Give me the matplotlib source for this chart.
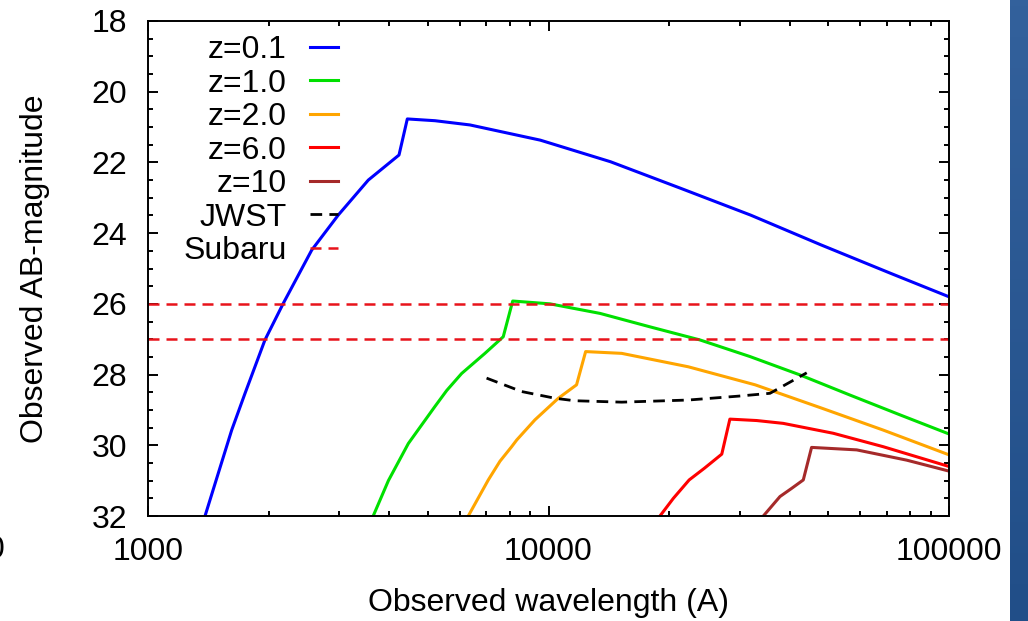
import numpy as np
import matplotlib
matplotlib.use('Agg')
import matplotlib.pyplot as plt
from matplotlib.ticker import FixedLocator, MultipleLocator, LogLocator, NullFormatter
from matplotlib.colors import LinearSegmentedColormap

plt.rcParams['font.family'] = ['Liberation Sans', 'DejaVu Sans']
plt.rcParams['font.size'] = 23

# observed wavelength (A) and AB magnitude
lam_z01 = [1388, 1498, 1618, 1747, 1959, 2178, 2563, 2985, 3548, 4234, 4441,
           5207, 6368, 9540, 14280, 21360, 31970, 47860, 71620, 100000]
mag_z01 = [32.0, 30.79, 29.57, 28.53, 27.02, 25.98, 24.48, 23.49, 22.50, 21.79, 20.77,
           20.82, 20.94, 21.37, 21.98, 22.73, 23.49, 24.33, 25.14, 25.80]

lam_z1 = [3650, 3983, 4467, 5207, 5570, 6068, 6939, 7709, 8140, 10090, 13450,
          17920, 23880, 31840, 42460, 56600, 75470, 100000]
mag_z1 = [32.0, 31.00, 29.95, 28.90, 28.45, 27.97, 27.40, 26.93, 25.92, 26.00, 26.27,
          26.65, 27.02, 27.49, 28.01, 28.58, 29.14, 29.68]

lam_z2 = [6305, 7074, 7566, 8090, 8330, 9250, 10580, 11750, 12380, 15230,
          22340, 32810, 48110, 68500, 100000]
mag_z2 = [32.0, 30.98, 30.45, 30.04, 29.85, 29.28, 28.67, 28.29, 27.35, 27.40,
          27.78, 28.29, 28.95, 29.57, 30.27]

lam_z6 = [18980, 20500, 22450, 24500, 27080, 28370, 33100, 38550, 51400,
          68500, 100000]
mag_z6 = [32.0, 31.50, 30.98, 30.65, 30.25, 29.26, 29.30, 29.38, 29.66,
          30.04, 30.60]

lam_z10 = [34390, 37840, 40450, 43270, 45380, 58830, 78390, 100000]
mag_z10 = [32.0, 31.45, 31.22, 30.98, 30.06, 30.13, 30.42, 30.73]

lam_jwst = [7004, 8570, 10380, 11620, 15230, 22340, 29790, 35730, 44130]
mag_jwst = [28.10, 28.48, 28.67, 28.74, 28.78, 28.72, 28.61, 28.53, 27.95]

subaru_limits = [26.0, 27.0]

labels = ['z=0.1', 'z=1.0', 'z=2.0', 'z=6.0', 'z=10', 'JWST', 'Subaru']
colors = ['#0000ff', '#00e000', '#ffa500', '#ff0000', '#a52a2a', 'black', '#e8131b']


fig = plt.figure(figsize=(10.28, 6.21), dpi=100)
ax = fig.add_axes([148 / 1028, 105 / 621, 801 / 1028, 495 / 621])

curves = [(lam_z01, mag_z01), (lam_z1, mag_z1), (lam_z2, mag_z2),
          (lam_z6, mag_z6), (lam_z10, mag_z10)]
for (lam, mag), col in zip(curves, colors[:5]):
    ax.plot(lam, mag, color=col, lw=2.2, solid_joinstyle='round')

ax.plot(lam_jwst, mag_jwst, color=colors[5], lw=2.0, dashes=(4.2, 2.6))
for m in subaru_limits:
    ax.plot([1000, 100000], [m, m], color=colors[6], lw=1.8, dashes=(4.4, 2.8))

ax.set_xscale('log')
ax.set_xlim(1000, 100000)
ax.set_ylim(32, 18)

ax.xaxis.set_major_locator(FixedLocator([1000, 10000, 100000]))
ax.set_xticklabels(['1000', '10000', '100000'])
ax.xaxis.set_minor_locator(LogLocator(base=10, subs=np.arange(2, 10)))
ax.xaxis.set_minor_formatter(NullFormatter())
ax.yaxis.set_major_locator(MultipleLocator(2))
ax.yaxis.set_minor_locator(MultipleLocator(0.5))

ax.tick_params(which='both', direction='in', top=True, right=True, width=1.4)
ax.tick_params(which='major', length=7.2, pad=15)
ax.tick_params(which='minor', length=3.6)
for sp in ax.spines.values():
    sp.set_linewidth(1.4)

ax.set_xlabel('Observed wavelength (A)')
ax.set_ylabel('Observed AB-magnitude')
ax.xaxis.set_label_coords(0.5, -0.145)
ax.yaxis.set_label_coords(-0.122, 0.5)

# key, gnuplot style: text right-aligned, sample on the right
def fx(px):
    return (px - 148) / 801


def fy(py):
    return 1 - (py - 21) / 495


row_y = [46.7, 80.2, 113.7, 147.2, 180.7, 214.2, 247.7]
for i, (lab, col) in enumerate(zip(labels, colors)):
    y = row_y[i]
    ax.text(fx(287), fy(y + 11.5), lab, transform=ax.transAxes,
            ha='right', va='baseline')
    kw = dict(color=col, lw=2.2)
    if lab == 'JWST':
        kw.update(lw=2.0, dashes=(4.2, 2.6))
    elif lab == 'Subaru':
        kw.update(lw=1.8, dashes=(4.4, 2.8))
    ax.plot([fx(310), fx(338)], [fy(y), fy(y)], transform=ax.transAxes,
            clip_on=False, **kw)

# cut-off text at the left edge of the slide
fig.text(5 / 1028, 1 - 550 / 621, '0', ha='right', va='center')

# slide background strip on the right
bar = fig.add_axes([1010 / 1028, 0, 18 / 1028, 1])
cmap = LinearSegmentedColormap.from_list('bar', ['#33619c', '#214e88'])
bar.imshow(np.linspace(0, 1, 100).reshape(-1, 1), aspect='auto', cmap=cmap)
bar.set_axis_off()

fig.savefig('out.png', dpi=100)
